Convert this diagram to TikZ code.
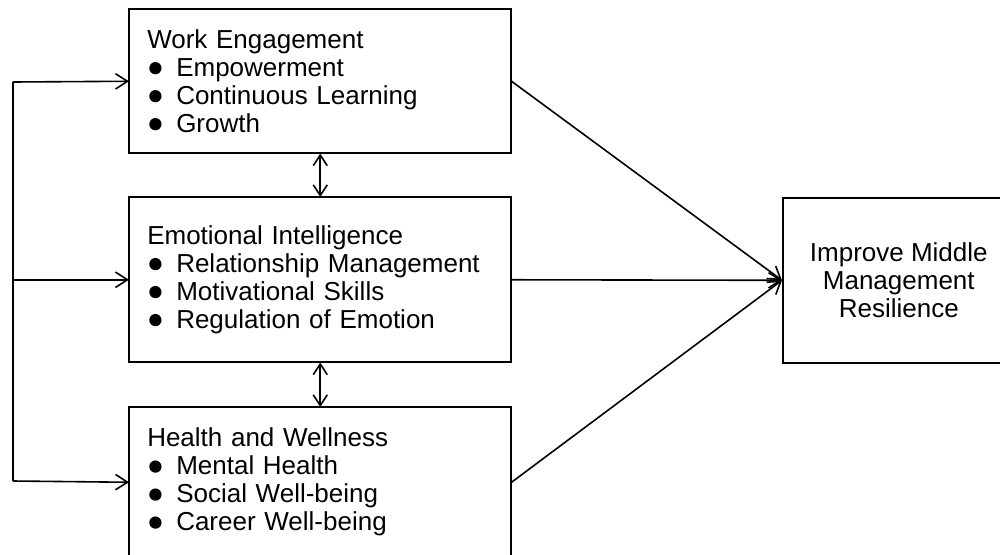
\documentclass[tikz,border=0pt]{standalone}
\usepackage{fontspec}
\setmainfont{Liberation Sans}
\usetikzlibrary{arrows.meta}

% bullet drawn as a filled disc, set in a fixed-width box before each item
\newcommand{\itm}[1]{\makebox[21.75pt][l]{\hspace{1.5pt}\tikz[baseline=-0.9pt]\fill (4.5pt,5.4pt) circle (4.6pt);}#1}

\begin{document}
\begin{tikzpicture}[x=0.75pt,y=-0.75pt,
  line width=1.2pt,
  every node/.style={font=\fontsize{19.5pt}{21pt}\selectfont},
  listbox/.style={draw, anchor=north west, align=left, inner xsep=13.5pt,
    text width=259.5pt, minimum width=286.5pt},
  goalbox/.style={draw, anchor=north west, align=center,
    minimum width=174pt, minimum height=123.75pt},
  arr/.style={-{Straight Barb[length=9pt,width=11.5pt,line width=1.2pt]}},
  dbl/.style={{Straight Barb[length=8pt,width=10.5pt,line width=1.2pt]}-{Straight Barb[length=8pt,width=10.5pt,line width=1.2pt]}},
]
\useasboundingbox (0,0) rectangle (1000,554);

% the three factor boxes
\node[listbox, minimum height=108pt] (b1) at (129,9)
  {Work Engagement\\ \itm{Empowerment}\\ \itm{Continuous Learning}\\ \itm{Growth}};
\node[listbox, minimum height=123.75pt] (b2) at (129,197)
  {Emotional Intelligence\\ \itm{Relationship Management}\\ \itm{Motivational Skills}\\ \itm{Regulation of Emotion}};
\node[listbox, minimum height=112.5pt] (b3) at (129,407)
  {Health and Wellness\\ \itm{Mental Health}\\ \itm{Social Well-being}\\ \itm{Career Well-being}};

% outcome box
\node[goalbox] (goal) at (782,197) {Improve Middle\\Management\\Resilience};

% feedback trunk on the left
\coordinate (trunkTop) at (13,82);
\coordinate (trunkBot) at (13,481);
\draw (trunkBot) -- (trunkTop);
\draw[arr] (trunkTop) -- (b1.west);
\draw[arr] (trunkTop |- b2.west) -- (b2.west);
\draw[arr] (trunkBot) -- (b3.west);

% links between neighbouring factors
\draw[dbl] (b1.south) -- (b2.north);
\draw[dbl] (b2.south) -- (b3.north);

% factors converge on the outcome
\draw[arr] (b1.east) -- (goal.west);
\draw[arr] (b2.east) -- (goal.west);
\draw[arr] (b3.east) -- (goal.west);
\end{tikzpicture}
\end{document}
